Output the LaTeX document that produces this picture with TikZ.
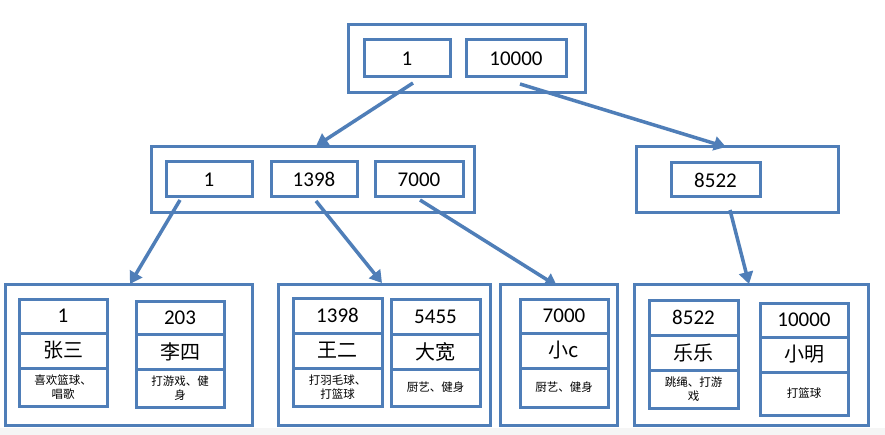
\documentclass[tikz,border=0pt]{standalone}
\usepackage{fontspec}
\setmainfont{Carlito}
\newfontfamily\cjk{Noto Sans CJK SC}
\usetikzlibrary{arrows.meta}
\definecolor{bl}{HTML}{4F7EB8}
\tikzset{
 box/.style={draw=bl,line width=3pt,fill=white,inner sep=0pt,outer sep=0pt,align=center},
 num/.style={font=\fontsize{21}{23}\selectfont},
 nm/.style={font=\cjk\fontsize{20}{22}\selectfont},
 ds/.style={font=\cjk\fontsize{11.5}{14}\selectfont,text width=78pt},
 arr/.style={draw=bl,line width=3.5pt,-{Triangle[length=12pt,width=14pt]}}
}
\newcommand\bx[7][]{\node[box,#1,minimum width={((#4)-(#2))*1pt},minimum height={((#5)-(#3))*1pt}] (#6) at ({((#2)+(#4))/2},{((#3)+(#5))/2}) {#7};}
\newcommand\rec[9]{%
 \bx[num]{#2}{#3}{#4}{#5}{#1a}{#7}
 \bx[nm]{#2}{#5}{#4}{#5+35}{#1b}{#8}
 \bx[ds]{#2}{#5+35}{#4}{#6}{#1c}{#9}}
\begin{document}
\begin{tikzpicture}[x=1pt,y=-1pt]
\useasboundingbox (0,0) rectangle (885,435);
\fill[white] (0,0) rectangle (885,435);
\fill[gray!8] (0,428) rectangle (885,435);
% root
\bx{348}{25}{585}{93}{root}{}
\bx[num]{364}{40}{450}{77}{r1}{1}
\bx[num]{466}{40}{566}{77}{r2}{10000}
% mid
\bx{151}{147}{474}{213}{ml}{}
\bx[num]{166}{162}{252}{197}{m1}{1}
\bx[num]{271}{162}{357}{197}{m2}{1398}
\bx[num]{375}{162}{463}{197}{m3}{7000}
\bx{636}{147}{838}{213}{mr}{}
\bx[num]{671}{163}{760}{197}{m4}{8522}
% leaves
\bx{5}{285}{252}{425}{l1}{}
\bx{278}{285}{490}{425}{l2}{}
\bx{500}{285}{617}{425}{l3}{}
\bx{634}{285}{868}{425}{l4}{}
\rec{a}{19}{299}{107}{333}{406}{1}{张三}{喜欢篮球、\\唱歌}
\rec{b}{136}{301}{224}{334}{407}{203}{李四}{打游戏、健\\身}
\rec{c}{293}{298}{382}{333}{406}{1398}{王二}{打羽毛球、\\打篮球}
\rec{d}{391}{299}{480}{334}{406}{5455}{大宽}{厨艺、健身}
\rec{e}{520}{299}{608}{333}{407}{7000}{小c}{厨艺、健身}
\rec{f}{649}{300}{738}{335}{408}{8522}{乐乐}{跳绳、打游\\戏}
\rec{g}{760}{303}{848}{337}{415}{10000}{小明}{打篮球}
% arrows
\coordinate (p1) at (413,83); \coordinate (q1) at (316,146);
\coordinate (p2) at (520,84); \coordinate (q2) at (726,147);
\coordinate (p3) at (180,200); \coordinate (q3) at (130,284);
\coordinate (p4) at (316,201); \coordinate (q4) at (382,283);
\coordinate (p5) at (420,200); \coordinate (q5) at (557,286);
\coordinate (p6) at (730,210); \coordinate (q6) at (749,284);
\foreach \i in {1,...,6} \draw[arr] (p\i) -- (q\i);
\end{tikzpicture}
\end{document}
